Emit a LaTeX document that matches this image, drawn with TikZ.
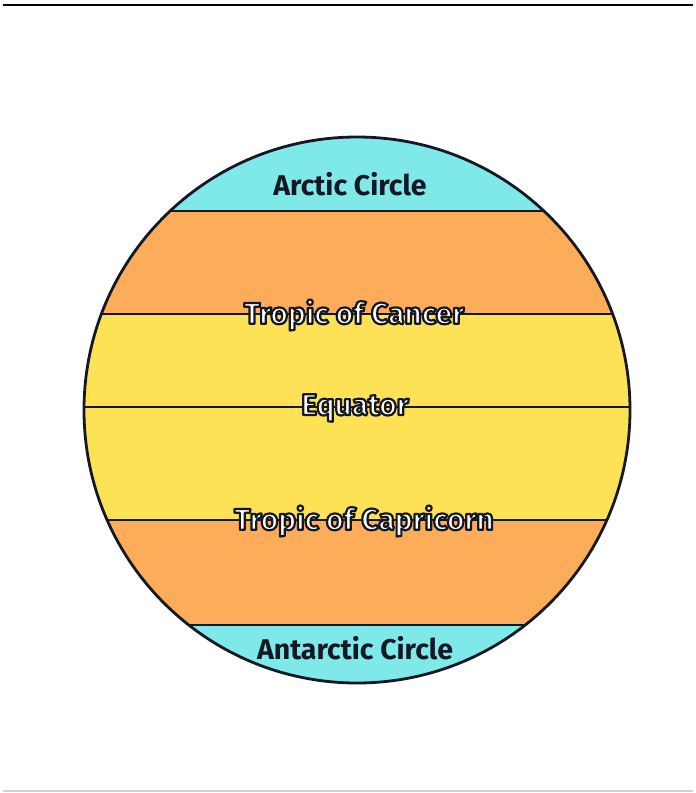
\documentclass[tikz,border=0pt]{standalone}
\usepackage{fontspec}
\setmainfont{Fira Sans}
\definecolor{arcticcol}{RGB}{127,232,232}
\definecolor{tropcol}{RGB}{253,172,90}
\definecolor{eqcol}{RGB}{254,226,86}
\definecolor{inkcol}{RGB}{20,24,36}
\newcommand{\outlinedtext}[1]{{\color{white}\special{pdf:literal direct 2 Tr 2.2 w 1 j 0.08 0.09 0.14 RG}#1\special{pdf:literal direct 0 Tr 0 0 0 RG}}}
\begin{document}
\begin{tikzpicture}[x=1pt,y=-1pt,
  band/.style={line width=2.8pt,draw=inkcol},
  darklabel/.style={font=\fontsize{28.5}{30}\selectfont\bfseries,text=inkcol,inner sep=0pt},
  outlabel/.style={font=\fontsize{30}{32}\selectfont\bfseries,inner sep=0pt}]
\useasboundingbox[fill=white] (0,0) rectangle (696,793);
\draw[line width=2pt,black] (3,4.5) -- (693,4.5);
\draw[line width=1.2pt,black!18] (3,791) -- (693,791);
\coordinate (c) at (357,410);
\begin{scope}
  \clip (c) circle (273);
  \fill[arcticcol] (80,130) rectangle (640,211);
  \fill[tropcol] (80,211) rectangle (640,314);
  \fill[eqcol] (80,314) rectangle (640,520);
  \fill[tropcol] (80,520) rectangle (640,625);
  \fill[arcticcol] (80,625) rectangle (640,690);
  \draw[band] (80,211) -- (640,211);
  \draw[band] (80,314) -- (640,314);
  \draw[band] (80,407) -- (640,407);
  \draw[band] (80,520) -- (640,520);
  \draw[band] (80,625) -- (640,625);
\end{scope}
\draw[line width=2.8pt,draw=inkcol] (c) circle (273);
\node[darklabel] (arctic) at (350,184) {Arctic Circle};
\node[outlabel] (cancer) at (354,315) {\outlinedtext{Tropic of Cancer}};
\node[outlabel] (equator) at (355,408) {\outlinedtext{Equator}};
\node[outlabel] (capricorn) at (364,521) {\outlinedtext{Tropic of Capricorn}};
\node[darklabel] (antarctic) at (355,648) {Antarctic Circle};
\end{tikzpicture}
\end{document}
